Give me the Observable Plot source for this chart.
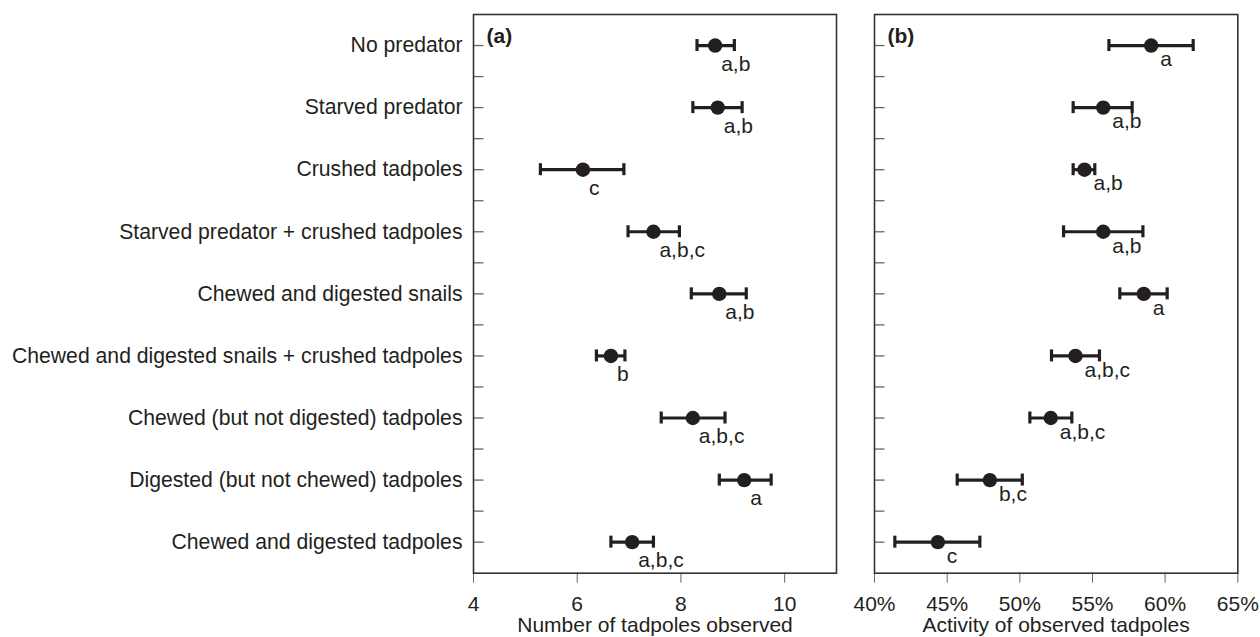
<!DOCTYPE html>
<html>
<head>
<meta charset="utf-8">
<script src="https://cdn.jsdelivr.net/npm/d3@7"></script>
<script src="https://cdn.jsdelivr.net/npm/@observablehq/plot@0.6"></script>
<style>
  html, body { margin: 0; padding: 0; background: #fff; }
  #wrap { position: relative; width: 1260px; height: 637px; overflow: hidden; }
  #wrap > div { position: absolute; top: 0; }
  #wrap svg { background: transparent !important; overflow: visible; }
</style>
</head>
<body>
<div id="wrap"><div id="pa" style="left:0"></div><div id="pb" style="left:840px"></div></div>
<script>
const categories = [
  "No predator",
  "Starved predator",
  "Crushed tadpoles",
  "Starved predator + crushed tadpoles",
  "Chewed and digested snails",
  "Chewed and digested snails + crushed tadpoles",
  "Chewed (but not digested) tadpoles",
  "Digested (but not chewed) tadpoles",
  "Chewed and digested tadpoles"
];

// Panel (a): number of tadpoles observed
const countMean  = [8.66, 8.71, 6.11, 7.47, 8.74, 6.65, 8.23, 9.22, 7.06];
const countLow   = [8.31, 8.23, 5.29, 6.98, 8.20, 6.37, 7.62, 8.74, 6.65];
const countHigh  = [9.03, 9.18, 6.90, 7.97, 9.26, 6.92, 8.85, 9.74, 7.47];
const countLetters = ["a,b", "a,b", "c", "a,b,c", "a,b", "b", "a,b,c", "a", "a,b,c"];
const countTicks = [4, 6, 8, 10];

// Panel (b): activity of observed tadpoles (%)
const activityMean = [59.04, 55.74, 54.45, 55.74, 58.53, 53.83, 52.13, 47.94, 44.36];
const activityLow  = [56.13, 53.67, 53.67, 53.01, 56.88, 52.18, 50.69, 45.69, 41.40];
const activityHigh = [61.93, 57.73, 55.16, 58.47, 60.14, 55.48, 53.58, 50.17, 47.25];
const activityLetters = ["a", "a,b", "a,b", "a,b", "a", "a,b,c", "a,b,c", "b,c", "c"];
const activityTicks = [40, 45, 50, 55, 60, 65];

const FONT = "'Liberation Sans', Arial, Helvetica, sans-serif";
const INK = "#231f20";
const H = 637, MT = 14, MB = 64.3;

const rows = (mean, lo, hi, letters) => categories.map((c, i) => ({i, c, mean: mean[i], lo: lo[i], hi: hi[i], letter: letters[i]}));
const major = d3.range(categories.length);
const minor = d3.range(categories.length - 1).map(i => i + 0.5);

function panel({data, width, marginLeft, marginRight, domain, ticks, tickFormat, title, tag, showY, ldx, ldy}) {
  const plotW = width - marginLeft - marginRight;
  const capHalf = 6 / ((H - MT - MB) / categories.length);
  return Plot.plot({
    width, height: H, marginTop: MT, marginBottom: MB, marginLeft, marginRight,
    style: {fontFamily: FONT, fontSize: "21px", color: INK, background: "transparent"},
    x: {domain, label: null, axis: null},
    y: {domain: [-0.5, categories.length - 0.5], reverse: true, label: null, axis: null},
    marks: [
      // inward y ticks (major and minor)
      Plot.tickY(major.concat(minor), {y: d => d, insetRight: plotW - 10.5, stroke: "#666", strokeWidth: 1.3}),
      showY ? Plot.axisY({ticks: major, tickFormat: i => categories[i], tickSize: 0, tickPadding: 11, fontSize: 21.2, fill: INK}) : null,
      Plot.axisX({ticks, tickFormat, tickSize: 10, tickPadding: 13, fontSize: 21, stroke: "#666", fill: INK, label: null}),
      Plot.text([title], {frameAnchor: "bottom", lineAnchor: "middle", dy: 52.5, fontSize: 21, fill: INK}),
      Plot.frame({stroke: "#333", strokeWidth: 1.6}),
      Plot.text([tag], {frameAnchor: "top-left", dx: 13, dy: 14, fontWeight: "bold", fontSize: 21, fill: INK}),
      Plot.ruleY(data, {y: "i", x1: "lo", x2: "hi", stroke: INK, strokeWidth: 3.2}),
      Plot.ruleX(data, {x: "lo", y1: d => d.i - capHalf, y2: d => d.i + capHalf, stroke: INK, strokeWidth: 3.2}),
      Plot.ruleX(data, {x: "hi", y1: d => d.i - capHalf, y2: d => d.i + capHalf, stroke: INK, strokeWidth: 3.2}),
      Plot.dot(data, {x: "mean", y: "i", r: 7.2, fill: INK, stroke: "none"}),
      Plot.text(data, {x: "mean", y: "i", text: "letter", textAnchor: "start", dx: ldx, dy: ldy, fontSize: 21, fill: INK})
    ]
  });
}

document.getElementById("pa").appendChild(panel({
  data: rows(countMean, countLow, countHigh, countLetters),
  width: 840, marginLeft: 473, marginRight: 4,
  domain: [4, 11], ticks: countTicks, tickFormat: d => String(d),
  title: "Number of tadpoles observed", tag: "(a)", showY: true, ldx: 6, ldy: 18.5
}));

document.getElementById("pb").appendChild(panel({
  data: rows(activityMean, activityLow, activityHigh, activityLetters),
  width: 420, marginLeft: 34, marginRight: 22.7,
  domain: [40, 65], ticks: activityTicks, tickFormat: d => d + "%",
  title: "Activity of observed tadpoles", tag: "(b)", showY: false, ldx: 9, ldy: 14
}));
</script>
</body>
</html>
